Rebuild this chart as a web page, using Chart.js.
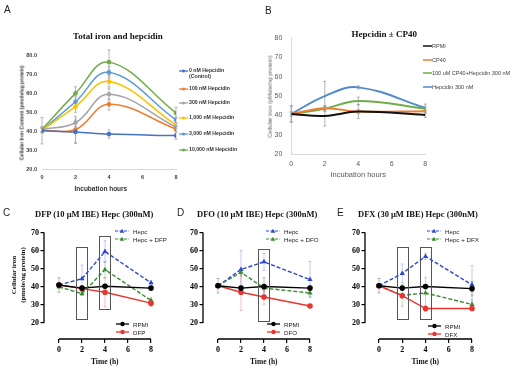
<!DOCTYPE html>
<html><head><meta charset="utf-8">
<script src="https://cdn.jsdelivr.net/npm/chart.js@4/dist/chart.umd.min.js"></script>
<style>
html,body{margin:0;padding:0;background:#fff;width:520px;height:374px;overflow:hidden;position:relative;font-family:"Liberation Sans",Arial,sans-serif;}
canvas{position:absolute;}
.t{position:absolute;white-space:nowrap;line-height:1.15;}
svg{position:absolute;overflow:visible;}
</style></head><body>
<script>
// ---------------- DATA ----------------
const hours = [0, 2, 4, 8];
const xTicks = [0, 2, 4, 6, 8];

// Panel A
const aLabels = ['0 nM Hepcidin', '100 nM Hepcidin', '300 nM Hepcidin', '1,000 nM Hepcidin', '3,000 nM Hepcidin', '10,000 nM Hepcidin'];
const a0nM     = [40.4, 39.7, 38.6, 37.8];
const a100nM   = [40.6, 41.0, 54.3, 41.3];
const a300nM   = [41.0, 44.6, 59.6, 42.3];
const a1000nM  = [40.7, 53.1, 66.4, 43.4];
const a3000nM  = [40.6, 55.7, 71.2, 46.1];
const a10000nM = [41.1, 60.1, 76.6, 49.8];
const a0nMErr     = [7.0, 6.0, 2.2, 2.0];
const a100nMErr   = [1.5, 7.0, 3.0, 1.5];
const a300nMErr   = [1.0, 2.0, 3.0, 1.0];
const a1000nMErr  = [1.0, 3.0, 3.0, 1.0];
const a3000nMErr  = [1.0, 2.5, 3.0, 1.5];
const a10000nMErr = [1.5, 3.5, 6.5, 3.0];
const aYTicks = [20, 30, 40, 50, 60, 70, 80];

// Panel B
const bLabels = ['RPMI', 'CP40', '100 uM CP40+Hepcidin 300 nM', 'Hepcidin 300 nM'];
const bRPMI     = [40.8, 39.8, 42.0, 40.3];
const bCP40     = [40.8, 43.7, 42.0, 42.2];
const bCP40Hep  = [40.8, 43.5, 47.5, 43.5];
const bHep300   = [40.8, 50.0, 54.5, 43.9];
const bRPMIErr    = [4.3, 5.2, 3.6, 1.3];
const bCP40Err    = [1.0, 1.0, 1.0, 1.0];
const bCP40HepErr = [1.0, 1.5, 2.0, 1.0];
const bHep300Err  = [4.0, 7.6, 0.8, 2.0];
const bYTicks = [20, 30, 40, 50, 60, 70, 80];

// Panels C-E
const cdeYTicks = [20, 30, 40, 50, 60, 70];
const cHepc     = [41.0, 44.5, 59.5, 42.2];
const cHepcDFP  = [40.0, 36.2, 49.5, 32.5];
const cRPMI     = [41.0, 39.3, 40.3, 39.3];
const cDFP      = [41.0, 39.0, 37.0, 31.0];
const cHepcErr    = [1.0, 7.5, 6.0, 1.0];
const cHepcDFPErr = [1.0, 1.0, 4.5, 1.5];
const cRPMIErr    = [4.0, 1.0, 1.0, 1.0];
const cDFPErr     = [1.0, 1.0, 8.0, 2.0];
const cBoxX = [2, 4], cBoxTop = [62, 68], cBoxBottom = [22, 27.5];

const dHepc     = [40.6, 49.6, 53.8, 44.0];
const dHepcDFO  = [40.6, 48.0, 39.3, 36.6];
const dRPMI     = [40.6, 39.3, 40.2, 39.3];
const dDFO      = [40.6, 37.0, 34.4, 29.4];
const dHepcErr    = [1.0, 10.4, 4.7, 10.0];
const dHepcDFOErr = [1.0, 2.0, 2.0, 2.0];
const dRPMIErr    = [4.0, 1.0, 4.8, 1.0];
const dDFOErr     = [1.0, 10.0, 4.0, 1.0];
const dBoxX = [4], dBoxTop = [61], dBoxBottom = [21];

const eHepc     = [40.6, 47.4, 56.8, 41.1];
const eHepcDFX  = [40.6, 35.3, 36.6, 30.3];
const eRPMI     = [40.6, 39.3, 40.2, 39.0];
const eDFX      = [40.6, 35.1, 28.0, 28.0];
const eHepcErr    = [1.0, 5.2, 1.7, 10.6];
const eHepcDFXErr = [1.0, 6.0, 8.5, 2.5];
const eRPMIErr    = [4.0, 1.0, 1.0, 4.0];
const eDFXErr     = [1.0, 1.0, 1.5, 1.0];
const eBoxX = [2, 4], eBoxTop = [62, 62], eBoxBottom = [22, 22];

// ---------------- HELPERS ----------------
const NS = 'http://www.w3.org/2000/svg';
const SERIF = '"Liberation Serif","Times New Roman",serif';
const SANS = '"Liberation Sans",Arial,sans-serif';
function pts(v) { return hours.map((h, i) => ({ x: h, y: v[i] })); }

function addText(txt, x, y, css, anchor, rot) {
  const s = document.createElement('div');
  s.className = 't'; s.textContent = txt;
  Object.assign(s.style, css);
  document.body.appendChild(s);
  const w = s.offsetWidth, h = s.offsetHeight;
  let left = anchor === 'c' ? x - w / 2 : anchor === 'r' ? x - w : x;
  if (rot) left = x - w / 2;
  s.style.left = left + 'px'; s.style.top = (y - h / 2) + 'px';
  if (rot) s.style.transform = 'rotate(-90deg)';
  return s;
}
function addMarker(x1, x2, y, color, shape, dashed, lw, r) {
  const svg = document.createElementNS(NS, 'svg');
  svg.setAttribute('width', x2 - x1); svg.setAttribute('height', 10);
  svg.style.left = x1 + 'px'; svg.style.top = (y - 5) + 'px';
  const l = document.createElementNS(NS, 'line');
  l.setAttribute('x1', 0); l.setAttribute('x2', x2 - x1); l.setAttribute('y1', 5); l.setAttribute('y2', 5);
  l.setAttribute('stroke', color); l.setAttribute('stroke-width', lw);
  if (dashed) l.setAttribute('stroke-dasharray', '3,1.5');
  svg.appendChild(l);
  const cx = (x2 - x1) / 2;
  if (shape === 'circle') {
    const c = document.createElementNS(NS, 'circle');
    c.setAttribute('cx', cx); c.setAttribute('cy', 5); c.setAttribute('r', r); c.setAttribute('fill', color);
    svg.appendChild(c);
  } else if (shape === 'triangle') {
    const p = document.createElementNS(NS, 'polygon');
    p.setAttribute('points', `${cx},${5 - r} ${cx - r},${5 + r * 0.75} ${cx + r},${5 + r * 0.75}`);
    p.setAttribute('fill', color); svg.appendChild(p);
  }
  document.body.appendChild(svg);
}
function addCanvas(id, left, top, w, h) {
  const c = document.createElement('canvas');
  c.id = id; c.width = w; c.height = h;
  c.style.left = left + 'px'; c.style.top = top + 'px'; c.style.width = w + 'px'; c.style.height = h + 'px';
  document.body.appendChild(c);
  return c;
}

const errorBars = {
  id: 'errorBars',
  beforeDatasetsDraw(chart, args, opts) {
    const { ctx, scales: { x, y } } = chart;
    chart.data.datasets.forEach(ds => {
      if (!ds.errors) return;
      ctx.save();
      ctx.strokeStyle = ds.errorColor || '#999'; ctx.lineWidth = opts.width || 0.8;
      const cap = opts.cap || 1.5;
      ds.data.forEach((p, i) => {
        const e = ds.errors[i]; if (!e) return;
        const px = x.getPixelForValue(p.x), y1 = y.getPixelForValue(p.y + e), y2 = y.getPixelForValue(p.y - e);
        ctx.beginPath();
        ctx.moveTo(px, y1); ctx.lineTo(px, y2);
        ctx.moveTo(px - cap, y1); ctx.lineTo(px + cap, y1);
        ctx.moveTo(px - cap, y2); ctx.lineTo(px + cap, y2);
        ctx.stroke();
      });
      ctx.restore();
    });
  }
};
const boxes = {
  id: 'boxes',
  afterDatasetsDraw(chart, args, opts) {
    if (!opts.xs) return;
    const { ctx, scales: { x, y } } = chart;
    ctx.save(); ctx.strokeStyle = '#555'; ctx.lineWidth = 1;
    opts.xs.forEach((bx, i) => {
      const l = x.getPixelForValue(bx - 0.48), r = x.getPixelForValue(bx + 0.48);
      const t = y.getPixelForValue(opts.tops[i]), b = y.getPixelForValue(opts.bottoms[i]);
      ctx.strokeRect(Math.round(l) + 0.5, Math.round(t) + 0.5, Math.round(r - l), Math.round(b - t));
    });
    ctx.restore();
  }
};
const prismAxes = {
  id: 'prismAxes',
  beforeDatasetsDraw(chart, args, opts) {
    if (!opts.on) return;
    const { ctx, chartArea, scales: { x, y } } = chart;
    ctx.save(); ctx.strokeStyle = '#000'; ctx.lineWidth = 1.3;
    ctx.beginPath();
    ctx.moveTo(chartArea.left, y.getPixelForValue(opts.yMin)); ctx.lineTo(chartArea.left, y.getPixelForValue(opts.yMax));
    ctx.moveTo(x.getPixelForValue(0), chartArea.bottom); ctx.lineTo(x.getPixelForValue(8), chartArea.bottom);
    ctx.stroke(); ctx.restore();
  }
};
Chart.register(errorBars, boxes, prismAxes);

function baseOptions(g) {
  return {
    responsive: false, animation: false, devicePixelRatio: 1, events: [],
    layout: { autoPadding: false, padding: { top: g.top, right: g.cw - g.right, left: 0, bottom: 0 } },
    plugins: { legend: { display: false }, title: { display: false }, tooltip: { enabled: false } },
    scales: {
      x: { type: 'linear', min: g.xMin, max: 8, afterFit: s => { s.height = g.ch - g.bottom; },
           afterBuildTicks: s => { s.ticks = xTicks.map(v => ({ value: v })); } },
      y: { type: 'linear', min: g.yMin, max: g.yMax, afterFit: s => { s.width = g.left; },
           afterBuildTicks: s => { s.ticks = g.yTicks.map(v => ({ value: v })); } }
    }
  };
}

// ---------------- PANEL A ----------------
(function () {
  const g = { cw: 200, ch: 200, left: 42, right: 176, top: 55.7, bottom: 169.3, xMin: 0, yMin: 20, yMax: 80, yTicks: aYTicks };
  const cv = addCanvas('cA', 0, 0, g.cw, g.ch);
  const o = baseOptions(g);
  const tf = { family: SANS, size: 5.5, weight: 'bold' };
  Object.assign(o.scales.x, { grid: { display: false, drawTicks: false }, border: { display: true, color: '#d9d9d9', width: 1 },
    ticks: { font: tf, color: '#404040', padding: 5 } });
  Object.assign(o.scales.y, { grid: { display: false, drawTicks: false }, border: { display: false },
    ticks: { font: tf, color: '#404040', padding: 5, callback: v => v.toFixed(1) } });
  o.plugins.errorBars = { cap: 1.5, width: 0.8 };
  const cols = ['#4472C4', '#ED7D31', '#A5A5A5', '#FFC000', '#5B9BD5', '#70AD47'];
  const vals = [a0nM, a100nM, a300nM, a1000nM, a3000nM, a10000nM];
  const errs = [a0nMErr, a100nMErr, a300nMErr, a1000nMErr, a3000nMErr, a10000nMErr];
  new Chart(cv, {
    type: 'line',
    data: { datasets: vals.map((v, i) => ({ label: aLabels[i], data: pts(v), borderColor: cols[i], backgroundColor: cols[i],
      borderWidth: 1.5, tension: 0.4, pointRadius: 2.3, pointBorderWidth: 0, pointBackgroundColor: cols[i],
      errors: errs[i], errorColor: '#a6a6a6' })) },
    options: o
  });
  addText('A', 4, 10, { fontFamily: SANS, fontSize: '10px', color: '#222' });
  addText('Total iron and hepcidin', 118, 36, { fontFamily: SERIF, fontWeight: 'bold', fontSize: '9px', color: '#111' }, 'c');
  addText('Cellular Iron Content (pmole/ug protein)', 22, 113, { fontFamily: SANS, fontWeight: 'bold', fontSize: '5px', color: '#333' }, 'c', true);
  addText('Incubation hours', 101, 188, { fontFamily: SANS, fontWeight: 'bold', fontSize: '6.5px', color: '#333' }, 'c');
  const ly = [71, 89, 103, 118, 134, 150];
  aLabels.forEach((lab, i) => {
    addMarker(179, 188, ly[i], cols[i], 'circle', false, 1.3, 1.6);
    addText(lab, 189, ly[i], { fontFamily: SANS, fontWeight: 'bold', fontSize: '5.2px', color: '#333' }, 'l');
  });
  addText('(Control)', 189, 77, { fontFamily: SANS, fontWeight: 'bold', fontSize: '5.2px', color: '#333' }, 'l');
})();

// ---------------- PANEL B ----------------
(function () {
  const g = { cw: 200, ch: 200, left: 41.3, right: 175.3, top: 37.9, bottom: 154.3, xMin: 0, yMin: 20, yMax: 80, yTicks: bYTicks };
  const cv = addCanvas('cB', 250, 0, g.cw, g.ch);
  const o = baseOptions(g);
  const tf = { family: SANS, size: 7 };
  Object.assign(o.scales.x, { grid: { display: false, drawTicks: false }, border: { display: true, color: '#d9d9d9', width: 1 },
    ticks: { font: tf, color: '#595959', padding: 6 } });
  Object.assign(o.scales.y, { grid: { display: false, drawTicks: false }, border: { display: true, color: '#d9d9d9', width: 1 },
    ticks: { font: tf, color: '#595959', padding: 9 } });
  o.plugins.errorBars = { cap: 1.5, width: 0.8 };
  const cols = ['#111111', '#ED7D31', '#70AD47', '#4F8CC9'];
  const vals = [bRPMI, bCP40, bCP40Hep, bHep300];
  const errs = [bRPMIErr, bCP40Err, bCP40HepErr, bHep300Err];
  new Chart(cv, {
    type: 'line',
    data: { datasets: vals.map((v, i) => ({ label: bLabels[i], data: pts(v), borderColor: cols[i], borderWidth: 2,
      tension: 0.4, pointRadius: 0, errors: errs[i], errorColor: '#a0a0a0' })) },
    options: o
  });
  addText('B', 265, 11, { fontFamily: SANS, fontSize: '10px', color: '#222' });
  addText('Hepcidin ± CP40', 384, 34, { fontFamily: SERIF, fontWeight: 'bold', fontSize: '9px', color: '#111' }, 'c');
  addText('Cellular iron (pMole/ng protein)', 270, 96, { fontFamily: SANS, fontSize: '6px', color: '#595959' }, 'c', true);
  addText('Incubation hours', 358, 175, { fontFamily: SANS, fontSize: '7.5px', color: '#595959' }, 'c');
  const ly = [46, 60, 73, 87];
  bLabels.forEach((lab, i) => {
    addMarker(423, 432, ly[i], cols[i], null, false, 1.5, 0);
    addText(lab, 432, ly[i], { fontFamily: SANS, fontSize: '5.5px', color: '#404040' }, 'l');
  });
})();

// ---------------- PANELS C, D, E ----------------
function prismPanel(cfg) {
  const g = { cw: 170, ch: 174, left: cfg.axisX - cfg.cl, right: cfg.x8 - cfg.cl, top: 232.5 - 200, bottom: 339 - 200,
    xMin: -(cfg.x0 - cfg.axisX) / ((cfg.x8 - cfg.x0) / 8), yMin: 11.2, yMax: 70, yTicks: cdeYTicks };
  const cv = addCanvas(cfg.id, cfg.cl, 200, g.cw, g.ch);
  const o = baseOptions(g);
  const tf = { family: SERIF, size: 8, weight: 'bold' };
  Object.assign(o.scales.x, { grid: { display: true, drawOnChartArea: false, drawTicks: true, tickLength: 4, color: '#000', lineWidth: 1.2 },
    border: { display: false }, ticks: { font: tf, color: '#000', padding: 2 } });
  Object.assign(o.scales.y, { grid: { display: true, drawOnChartArea: false, drawTicks: true, tickLength: 3.5, color: '#000', lineWidth: 1.2 },
    border: { display: false }, ticks: { font: tf, color: '#000', padding: 1.5 } });
  o.plugins.errorBars = { cap: 1.5, width: 0.8 };
  o.plugins.boxes = { xs: cfg.boxX, tops: cfg.boxTop, bottoms: cfg.boxBottom };
  o.plugins.prismAxes = { on: true, yMin: 20, yMax: 70 };
  const blue = '#2D44DD', green = '#3A8A2E', red = '#E8352F', black = '#000';
  const sets = [
    { v: cfg.rpmi, e: cfg.rpmiErr, c: black, ec: 'rgba(0,0,0,0.35)', dash: [], shape: 'circle' },
    { v: cfg.drug, e: cfg.drugErr, c: red, ec: 'rgba(232,53,47,0.4)', dash: [], shape: 'circle' },
    { v: cfg.hepcDrug, e: cfg.hepcDrugErr, c: green, ec: 'rgba(58,138,46,0.4)', dash: [4, 2], shape: 'triangle' },
    { v: cfg.hepc, e: cfg.hepcErr, c: blue, ec: 'rgba(45,68,221,0.35)', dash: [4, 2], shape: 'triangle' }
  ];
  new Chart(cv, {
    type: 'line',
    data: { datasets: sets.map(s => ({ data: pts(s.v), borderColor: s.c, backgroundColor: s.c, borderWidth: 1.4,
      borderDash: s.dash, tension: 0, pointStyle: s.shape, pointRadius: s.shape === 'triangle' ? 3 : 2.8,
      pointBorderWidth: 0, pointBackgroundColor: s.c, errors: s.e, errorColor: s.ec, clip: false })) },
    options: o
  });
  addText(cfg.letter, cfg.letterX, 213, { fontFamily: SANS, fontSize: '10px', color: '#222' });
  addText(cfg.title, cfg.titleX, 215, { fontFamily: SERIF, fontWeight: 'bold', fontSize: '8.5px', color: '#111' }, 'c');
  addText('Time (h)', cfg.x0 + (cfg.x8 - cfg.x0) / 2, 362, { fontFamily: SERIF, fontWeight: 'bold', fontSize: '7.5px', color: '#111' }, 'c');
  const lf = { fontFamily: SANS, fontSize: '6.2px', color: '#222' };
  addMarker(cfg.lgX, cfg.lgX + 14, 231, blue, 'triangle', true, 1.2, 2.3);
  addText('Hepc', cfg.lgX + 18, 231, lf, 'l');
  addMarker(cfg.lgX, cfg.lgX + 14, 239, green, 'triangle', true, 1.2, 2.3);
  addText('Hepc + ' + cfg.drugName, cfg.lgX + 18, 239, lf, 'l');
  addMarker(cfg.lgX + 1, cfg.lgX + 14, cfg.lbY, black, 'circle', false, 1.3, 2.2);
  addText('RPMI', cfg.lgX + 18, cfg.lbY, lf, 'l');
  addMarker(cfg.lgX + 1, cfg.lgX + 14, cfg.lbY + 8, red, 'circle', false, 1.3, 2.2);
  addText(cfg.drugName, cfg.lgX + 18, cfg.lbY + 8, lf, 'l');
}

prismPanel({ id: 'cC', cl: 0, axisX: 44, x0: 59, x8: 151, letter: 'C', letterX: 3, title: 'DFP (10 μM IBE) Hepc (300nM)', titleX: 94,
  drugName: 'DFP', hepc: cHepc, hepcErr: cHepcErr, hepcDrug: cHepcDFP, hepcDrugErr: cHepcDFPErr, rpmi: cRPMI, rpmiErr: cRPMIErr,
  drug: cDFP, drugErr: cDFPErr, boxX: cBoxX, boxTop: cBoxTop, boxBottom: cBoxBottom, lgX: 115, lbY: 324 });
prismPanel({ id: 'cD', cl: 160, axisX: 203, x0: 218, x8: 310, letter: 'D', letterX: 177, title: 'DFO (10 μM IBE) Hepc (300nM)', titleX: 257,
  drugName: 'DFO', hepc: dHepc, hepcErr: dHepcErr, hepcDrug: dHepcDFO, hepcDrugErr: dHepcDFOErr, rpmi: dRPMI, rpmiErr: dRPMIErr,
  drug: dDFO, drugErr: dDFOErr, boxX: dBoxX, boxTop: dBoxTop, boxBottom: dBoxBottom, lgX: 266, lbY: 324 });
prismPanel({ id: 'cE', cl: 320, axisX: 365, x0: 379, x8: 472, letter: 'E', letterX: 337, title: 'DFX (30 μM IBE) Hepc (300nM)', titleX: 418,
  drugName: 'DFX', hepc: eHepc, hepcErr: eHepcErr, hepcDrug: eHepcDFX, hepcDrugErr: eHepcDFXErr, rpmi: eRPMI, rpmiErr: eRPMIErr,
  drug: eDFX, drugErr: eDFXErr, boxX: eBoxX, boxTop: eBoxTop, boxBottom: eBoxBottom, lgX: 427, lbY: 326 });

addText('Cellular iron', 14, 275, { fontFamily: SERIF, fontWeight: 'bold', fontSize: '7px', color: '#111' }, 'c', true);
addText('(pmole/ng protein)', 23, 275, { fontFamily: SERIF, fontWeight: 'bold', fontSize: '7px', color: '#111' }, 'c', true);
</script>
</body></html>
